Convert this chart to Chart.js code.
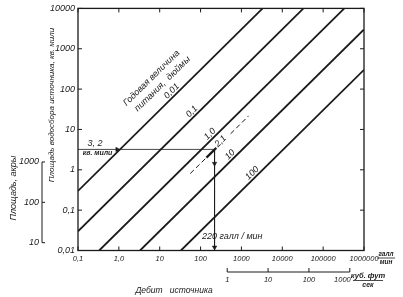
<!DOCTYPE html>
<html>
<head>
<meta charset="utf-8">
<script src="https://cdn.jsdelivr.net/npm/chart.js@4.4.1/dist/chart.umd.min.js"></script>
<style>
    html, body { margin: 0; padding: 0; background: #fff; }
    canvas { display: block; }
</style>
</head>
<body>
<canvas id="springChart" width="403" height="297"></canvas>
<script>
// ===== DATA =====
// recharge lines: Q (gal/min) vs drainage area (sq mi), straight in log-log
const rechargeLabels = ["0,01", "0,1", "1,0", "10", "100"];
const lineStartFlow = [0.1, 0.1, 0.33, 3.3, 33];
const lineStartArea = [0.3, 0.03, 0.01, 0.01, 0.01];
const lineEndFlow = [3300, 33000, 330000, 1000000, 1000000];
const lineEndArea = [10000, 10000, 10000, 3000, 300];

// worked example: 3,2 sq mi at 2,1 in/yr -> 220 gal/min
const exampleArea = 3.2;
const exampleFlow = 220;
const exampleDashLowFlow = [56, 139];
const exampleDashLowArea = [0.81, 2.0];
const exampleSolidFlow = [139, 243];
const exampleSolidArea = [2.0, 3.5];
const exampleDashHighFlow = [543, 1500];
const exampleDashHighArea = [7.8, 21.7];
const arrowFlow = [0.91, 220, 220];
const arrowArea = [3.2, 1.43, 0.012];
const arrowTurn = [90, 180, 180];

// axes
const xTicks = [0.1, 1, 10, 100, 1000, 10000, 100000, 1000000];
const xTickLabels = ["0,1", "1,0", "10", "100", "1000", "10000", "100000", "1000000"];
const yTicks = [0.01, 0.1, 1, 10, 100, 1000, 10000];
const yTickLabels = ["0,01", "0,1", "1", "10", "100", "1000", "10000"];
const acreTicks = [10, 100, 1000];
const cfsTicks = [1, 10, 100, 1000];
const ACRES_PER_SQMI = 640;
const GPM_PER_CFS = 448.83;

// ===== STYLE / LAYOUT =====
const INK = "#1a1a1a";
const FONT = "'Liberation Sans', 'DejaVu Sans', sans-serif";
const labelFlow = [24, 75, 207, 643, 2234];   // where each line label sits
const exampleLabelFlow = 330;

function put(ctx, text, x, y, size, opt = {}) {
    ctx.save();
    ctx.translate(x, y);
    if (opt.rot) ctx.rotate(opt.rot * Math.PI / 180);
    ctx.font = "italic " + (opt.bold ? "bold " : "") + size + "px " + FONT;
    ctx.textAlign = opt.align || "center";
    ctx.textBaseline = "middle";
    ctx.fillStyle = INK;
    ctx.fillText(text, 0, 0);
    ctx.restore();
}

function seg(fx, ay) {
    return fx.map((f, i) => ({ x: f, y: ay[i] }));
}

function lerpLog(q, q1, a1, q2, a2) {
    const t = (Math.log10(q) - Math.log10(q1)) / (Math.log10(q2) - Math.log10(q1));
    return Math.pow(10, Math.log10(a1) + t * (Math.log10(a2) - Math.log10(a1)));
}

// ===== DATASETS =====
const datasets = rechargeLabels.map((r, i) => ({
    label: r,
    data: [
        { x: lineStartFlow[i], y: lineStartArea[i] },
        { x: lineEndFlow[i], y: lineEndArea[i] }
    ],
    showLine: true,
    borderColor: INK,
    borderWidth: 1.8,
    pointRadius: 0
}));

datasets.push(
    { data: seg(exampleDashLowFlow, exampleDashLowArea), showLine: true, borderColor: INK,
      borderWidth: 1, borderDash: [5, 3], pointRadius: 0 },
    { data: seg(exampleSolidFlow, exampleSolidArea), showLine: true, borderColor: INK,
      borderWidth: 2.2, pointRadius: 0 },
    { data: seg(exampleDashHighFlow, exampleDashHighArea), showLine: true, borderColor: INK,
      borderWidth: 1, borderDash: [5, 3], pointRadius: 0 },
    { data: [{ x: 0.1, y: exampleArea }, { x: exampleFlow, y: exampleArea }], showLine: true,
      borderColor: INK, borderWidth: 0.8, pointRadius: 0 },
    { data: [{ x: exampleFlow, y: exampleArea }, { x: exampleFlow, y: 0.01 }], showLine: true,
      borderColor: INK, borderWidth: 0.8, pointRadius: 0 },
    { data: seg(arrowFlow, arrowArea), showLine: false, pointStyle: "triangle",
      rotation: arrowTurn, pointRadius: 2.6, backgroundColor: INK, borderColor: INK, borderWidth: 0.5 }
);

// ===== EXTRA DRAWING: frame, second axes, titles, notes =====
const decorPlugin = {
    id: "decor",
    afterDatasetsDraw(chart) {
        const ctx = chart.ctx;
        const xs = chart.scales.x;
        const ys = chart.scales.y;
        const a = chart.chartArea;

        ctx.save();
        ctx.strokeStyle = INK;
        ctx.lineWidth = 1.3;
        ctx.strokeRect(a.left, a.top, a.right - a.left, a.bottom - a.top);

        // inward ticks on all four sides
        ctx.lineWidth = 1;
        ctx.beginPath();
        xTicks.forEach(v => {
            const px = xs.getPixelForValue(v);
            ctx.moveTo(px, a.bottom); ctx.lineTo(px, a.bottom - 4);
            ctx.moveTo(px, a.top); ctx.lineTo(px, a.top + 4);
        });
        yTicks.forEach(v => {
            const py = ys.getPixelForValue(v);
            ctx.moveTo(a.left, py); ctx.lineTo(a.left + 4, py);
            ctx.moveTo(a.right, py); ctx.lineTo(a.right - 4, py);
        });
        ctx.stroke();

        // acre axis
        const acreX = 42;
        ctx.beginPath();
        ctx.moveTo(acreX, ys.getPixelForValue(acreTicks[acreTicks.length - 1] / ACRES_PER_SQMI));
        ctx.lineTo(acreX, ys.getPixelForValue(acreTicks[0] / ACRES_PER_SQMI));
        acreTicks.forEach(v => {
            const py = ys.getPixelForValue(v / ACRES_PER_SQMI);
            ctx.moveTo(acreX, py); ctx.lineTo(acreX + 3, py);
        });
        ctx.stroke();
        acreTicks.forEach(v => {
            put(ctx, String(v), acreX - 3, ys.getPixelForValue(v / ACRES_PER_SQMI), 9, { align: "right" });
        });

        // cubic ft/sec axis
        const cfsY = 272;
        ctx.beginPath();
        ctx.moveTo(xs.getPixelForValue(cfsTicks[0] * GPM_PER_CFS), cfsY);
        ctx.lineTo(xs.getPixelForValue(cfsTicks[cfsTicks.length - 1] * GPM_PER_CFS), cfsY);
        cfsTicks.forEach(v => {
            const px = xs.getPixelForValue(v * GPM_PER_CFS);
            ctx.moveTo(px, cfsY); ctx.lineTo(px, cfsY - 4);
        });
        ctx.stroke();
        cfsTicks.forEach((v, i) => {
            const px = xs.getPixelForValue(v * GPM_PER_CFS);
            const last = i === cfsTicks.length - 1;
            put(ctx, String(v), last ? px + 1 : px, 279.5, 7.5, { align: last ? "right" : "center" });
        });

        // unit fractions
        ctx.lineWidth = 0.8;
        ctx.beginPath();
        ctx.moveTo(377, 258); ctx.lineTo(395, 258);
        ctx.moveTo(353, 280.5); ctx.lineTo(383, 280.5);
        ctx.stroke();
        put(ctx, "галл", 386, 254.5, 6.5, { bold: true });
        put(ctx, "мин", 386, 262, 6.5, { bold: true });
        put(ctx, "куб. фут", 368, 276, 7.5, { bold: true });
        put(ctx, "сек", 368, 285, 7, { bold: true });

        // axis titles
        put(ctx, "Площадь водосбора источника, кв. мили", 52, 105, 8, { rot: -90 });
        put(ctx, "Площадь, акры", 13, 188, 9, { rot: -90 });
        put(ctx, "Дебит   источника", 174, 291, 8.5);

        // line labels along each recharge line
        rechargeLabels.forEach((r, i) => {
            const x1 = xs.getPixelForValue(lineStartFlow[i]), y1 = ys.getPixelForValue(lineStartArea[i]);
            const x2 = xs.getPixelForValue(lineEndFlow[i]), y2 = ys.getPixelForValue(lineEndArea[i]);
            const th = Math.atan2(y2 - y1, x2 - x1);
            const q = labelFlow[i];
            const ar = lerpLog(q, lineStartFlow[i], lineStartArea[i], lineEndFlow[i], lineEndArea[i]);
            const px = xs.getPixelForValue(q) + Math.sin(th) * 5;
            const py = ys.getPixelForValue(ar) - Math.cos(th) * 5;
            put(ctx, r, px, py, 9, { rot: th * 180 / Math.PI });
        });

        // example line label "2,1" sits in the gap of the dashed line
        const ex1 = xs.getPixelForValue(exampleDashLowFlow[0]), ey1 = ys.getPixelForValue(exampleDashLowArea[0]);
        const ex2 = xs.getPixelForValue(exampleDashHighFlow[1]), ey2 = ys.getPixelForValue(exampleDashHighArea[1]);
        const eth = Math.atan2(ey2 - ey1, ex2 - ex1);
        const eA = lerpLog(exampleLabelFlow, exampleDashLowFlow[0], exampleDashLowArea[0],
                           exampleDashHighFlow[1], exampleDashHighArea[1]);
        put(ctx, "2,1", xs.getPixelForValue(exampleLabelFlow) + Math.sin(eth) * 1.5,
            ys.getPixelForValue(eA) - Math.cos(eth) * 1.5, 9, { rot: eth * 180 / Math.PI });

        // parameter note
        const deg = eth * 180 / Math.PI;
        put(ctx, "Годовая величина", 151.5, 78, 9, { rot: deg });
        put(ctx, "питания,  дюймы", 162.5, 84, 9, { rot: deg });

        // example notes
        put(ctx, "3, 2", 95, 143, 9);
        put(ctx, "кв. мили", 97.5, 153, 7, { bold: true });
        put(ctx, "220 галл / мин", 202, 236, 9, { align: "left" });

        ctx.restore();
    }
};

// ===== CREATE CHART =====
const ctx = document.getElementById("springChart").getContext("2d");

const springChart = new Chart(ctx, {
    type: "scatter",
    data: { datasets: datasets },
    options: {
        responsive: false,
        animation: false,
        devicePixelRatio: 1,
        layout: { padding: { left: 0, right: 39, top: 7.5, bottom: 0 } },
        plugins: {
            legend: { display: false },
            tooltip: { enabled: false }
        },
        scales: {
            x: {
                type: "logarithmic",
                min: 0.1,
                max: 1000000,
                afterBuildTicks: s => { s.ticks = xTicks.map(v => ({ value: v })); },
                afterFit: s => { s.height = 46.5; },
                grid: { display: false, drawTicks: false },
                border: { display: false },
                ticks: {
                    autoSkip: false,
                    maxRotation: 0,
                    padding: 4,
                    color: INK,
                    font: { family: FONT, style: "italic", size: 7.5 },
                    callback: (v, i) => xTickLabels[i]
                }
            },
            y: {
                type: "logarithmic",
                min: 0.01,
                max: 10000,
                afterBuildTicks: s => { s.ticks = yTicks.map(v => ({ value: v })); },
                afterFit: s => { s.width = 78; },
                grid: { display: false, drawTicks: false },
                border: { display: false },
                ticks: {
                    autoSkip: false,
                    padding: 3,
                    color: INK,
                    font: { family: FONT, style: "italic", size: 9 },
                    callback: (v, i) => yTickLabels[i]
                }
            }
        }
    },
    plugins: [decorPlugin]
});
</script>
</body>
</html>
